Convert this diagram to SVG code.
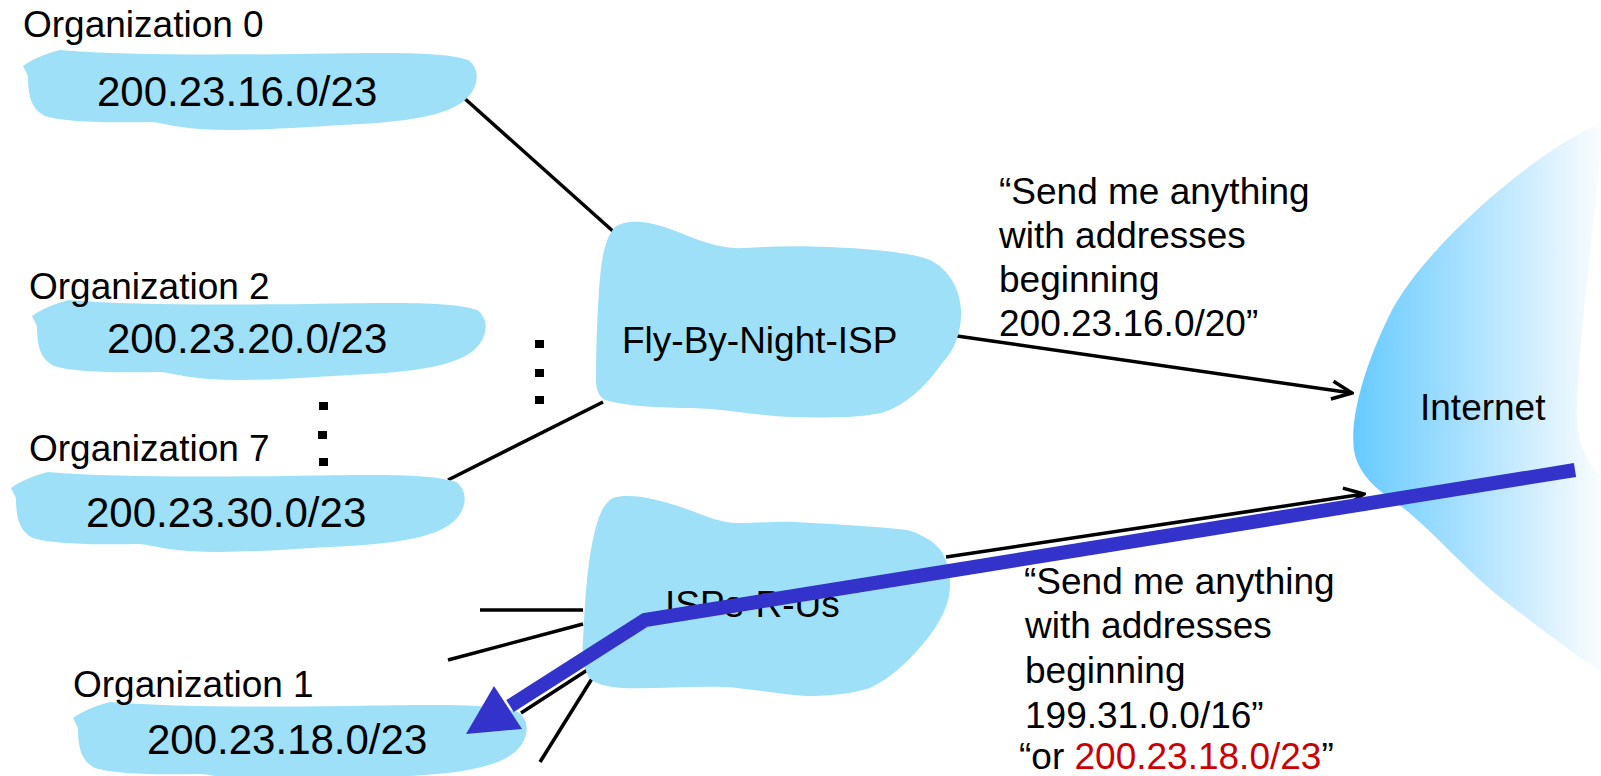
<svg xmlns="http://www.w3.org/2000/svg" xmlns:xlink="http://www.w3.org/1999/xlink" width="1601" height="776" viewBox="0 0 1601 776">
<style>
text{font-family:"Liberation Sans",Arial,sans-serif;fill:#000}
.lbl{font-size:37px}
.ip{font-size:42px}
.blob{fill:#9EE0F8}
.ln{stroke:#000;stroke-width:3.5;fill:none}
.dot{fill:#000}
</style>
<defs>
<path id="orgShape" d="M23,66 C32,59 48,53 60,50 C120,55 200,55 300,54 C380,53 440,51 468,60 C481,69 479,88 465,100 C447,115 412,121 360,124 C300,127 250,132 200,129 C172,127 160,122 150,122 C110,123 62,122 45,116 C31,109 28,95 28,76 Z"/>
<linearGradient id="inetGrad" gradientUnits="userSpaceOnUse" x1="1353" y1="0" x2="1601" y2="0">
<stop offset="0" stop-color="#66CAFF"/>
<stop offset="1" stop-color="#FAFCFF"/>
</linearGradient>
<marker id="chev" viewBox="0 0 24 22" refX="22" refY="11" markerWidth="24" markerHeight="22" markerUnits="userSpaceOnUse" orient="auto">
<path d="M2,2 L22,11 L2,20" fill="none" stroke="#000" stroke-width="3.5"/>
</marker>
</defs>

<g id="internet">
<path d="M1593,127 C1540,150 1430,240 1392,310 C1362,370 1350,420 1354,450 C1358,476 1380,492 1402,507 C1432,530 1470,575 1510,605 C1540,628 1580,658 1601,672 L1601,475 C1586,462 1575,440 1577,405 C1580,330 1590,260 1601,150 L1601,128 Z" fill="url(#inetGrad)"/>
<text class="lbl" x="1420" y="420">Internet</text>
</g>

<g id="connectors">
<line class="ln" x1="463" y1="97" x2="615" y2="233"/>
<line class="ln" x1="448" y1="480" x2="603" y2="402"/>
<line class="ln" x1="957" y1="336" x2="1352" y2="393" marker-end="url(#chev)"/>
<line class="ln" x1="946" y1="557" x2="1364" y2="494" marker-end="url(#chev)"/>
<line class="ln" x1="480" y1="610" x2="583" y2="610"/>
<line class="ln" x1="448" y1="660" x2="583" y2="624"/>
<line class="ln" x1="521" y1="713" x2="592" y2="667"/>
<line class="ln" x1="540" y1="762" x2="593" y2="677"/>
</g>

<g id="org0">
<use xlink:href="#orgShape" class="blob"/>
<text class="lbl" x="23" y="37">Organization 0</text>
<text class="ip" x="97" y="106">200.23.16.0/23</text>
</g>

<g id="org2">
<use xlink:href="#orgShape" class="blob" transform="translate(9,250)"/>
<text class="lbl" x="29" y="299">Organization 2</text>
<text class="ip" x="107" y="353">200.23.20.0/23</text>
</g>

<g id="org7">
<use xlink:href="#orgShape" class="blob" transform="translate(-12,422)"/>
<text class="lbl" x="29" y="461">Organization 7</text>
<text class="ip" x="86" y="527">200.23.30.0/23</text>
</g>

<g id="org1">
<use xlink:href="#orgShape" class="blob" transform="translate(50,652)"/>
<text class="lbl" x="73" y="697">Organization 1</text>
<text class="ip" x="147" y="754">200.23.18.0/23</text>
</g>

<g id="dots">
<rect class="dot" x="319" y="402" width="9" height="8"/>
<rect class="dot" x="318" y="431" width="9" height="8"/>
<rect class="dot" x="319" y="458" width="9" height="8"/>
<rect class="dot" x="535" y="340" width="9" height="8"/>
<rect class="dot" x="535" y="369" width="9" height="8"/>
<rect class="dot" x="535" y="396" width="9" height="8"/>
</g>

<g id="flybynight">
<path class="blob" d="M615,227 C622,222 632,221 642,222 C660,224 678,232 693,238 C712,245 728,249 745,248 C775,246 800,246 830,247 C870,249 910,252 930,260 C950,270 960,290 961,310 C962,330 955,350 943,362 C930,380 915,398 890,410 C870,418 830,418 793,417 C760,416 725,409 693,408 C660,408 625,406 605,400 C598,396 596,388 596,380 C596,350 597,320 599,290 C601,265 603,240 615,227 Z"/>
<text class="lbl" x="622" y="353">Fly-By-Night-ISP</text>
</g>

<g id="ispsrus">
<path class="blob" d="M613,498 C622,495 632,496 642,497 C660,500 676,505 692,511 C708,517 720,522 735,523 C760,523 780,521 795,522 C830,524 870,526 907,530 C925,535 940,545 945,558 C950,570 952,585 948,600 C944,615 935,630 922,645 C905,665 890,678 870,688 C850,694 830,696 807,696 C780,695 750,688 723,687 C690,686 655,689 623,688 C605,687 592,683 588,676 C583,665 582,650 583,640 C584,620 585,600 587,580 C589,560 592,540 597,523 C601,510 606,502 613,498 Z"/>
<text class="lbl" x="665" y="617">ISPs-R-Us</text>
</g>

<g id="label-fly">
<text class="lbl" x="999" y="204">“Send me anything</text>
<text class="lbl" x="999" y="248">with addresses</text>
<text class="lbl" x="999" y="292">beginning</text>
<text class="lbl" x="999" y="336">200.23.16.0/20”</text>
</g>

<g id="label-isps">
<text class="lbl" x="1024" y="594">“Send me anything</text>
<text class="lbl" x="1025" y="638">with addresses</text>
<text class="lbl" x="1025" y="683">beginning</text>
<text class="lbl" x="1025" y="728">199.31.0.0/16”</text>
<text class="lbl" x="1019" y="769">“or <tspan fill="#CC0000">200.23.18.0/23</tspan>”</text>
</g>

<g id="route">
<polyline points="1575,470 645,620 510,706" fill="none" stroke="#3333CC" stroke-width="14" stroke-linejoin="miter"/>
<polygon points="466,734 494,686 522,729" fill="#3333CC"/>
</g>
</svg>
